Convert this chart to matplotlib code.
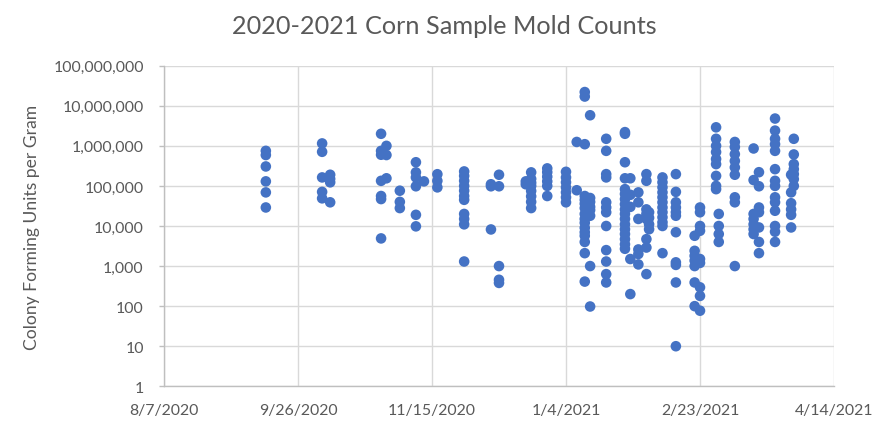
import datetime as dt
import matplotlib
matplotlib.use("Agg")
import matplotlib.pyplot as plt
import matplotlib.dates as mdates
from matplotlib.ticker import FixedLocator, FuncFormatter, NullLocator

plt.rcParams['font.family'] = ['Lato', 'DejaVu Sans']

# ---- data: sample dates and mold counts (CFU/g) ----
sample_dates = [
    "2020-09-14", "2020-10-05", "2020-10-08", "2020-10-27", "2020-10-29",
    "2020-11-03", "2020-11-09", "2020-11-12", "2020-11-17", "2020-11-27",
    "2020-12-07", "2020-12-10", "2020-12-20", "2020-12-22", "2020-12-28",
    "2021-01-04", "2021-01-08", "2021-01-11", "2021-01-13", "2021-01-19",
    "2021-01-26", "2021-01-28", "2021-01-31", "2021-02-03", "2021-02-04",
    "2021-02-09", "2021-02-14", "2021-02-21", "2021-02-23", "2021-03-01",
    "2021-03-02", "2021-03-08", "2021-03-15", "2021-03-17", "2021-03-23",
    "2021-03-29", "2021-03-30",
]
cfu_values = [
    [750000, 590000, 306000, 130000, 69000, 29000],
    [1150000, 710000, 163000, 71000, 49000],
    [190000, 150000, 123000, 39000],
    [2000000, 750000, 600000, 134000, 56000, 47000, 4900],
    [1000000, 590000, 155000],
    [76000, 40000, 28000],
    [390000, 218000, 163000, 98000, 19000, 9800],
    [130000],
    [196000, 134000, 92000],
    [230000, 178000, 134000, 100000, 76000, 56000, 45000, 20000, 15000, 11000, 1300],
    [110000, 98000, 8200],
    [190000, 98000, 1000, 455, 380],
    [130000, 110000],
    [218000, 150000, 120000, 100000, 75000, 55000, 40000, 28000],
    [274000, 220000, 170000, 130000, 100000, 56000],
    [225000, 163000, 123000, 92000, 69000, 52000, 39000],
    [1250000, 78000],
    [22000000, 17000000, 1100000, 56000, 45000, 36000, 28000, 20000, 15000,
     12000, 9000, 7000, 5700, 4000, 2100, 410],
    [5800000, 50000, 40000, 30000, 25000, 18000, 1000, 98],
    [1500000, 750000, 197000, 163000, 39000, 29000, 22000, 10000, 2500, 1300, 630, 390],
    [2200000, 2000000, 390000, 155000, 83000, 63000, 47000, 35000, 26000, 20000,
     15000, 11000, 8300, 6300, 4700, 3500, 2700],
    [155000, 60000, 30000, 1500, 200],
    [69000, 39000, 15000, 2600, 2000, 1100],
    [197000, 134000, 26000, 20000, 15000, 4700, 2900, 630],
    [22000, 16000, 11000, 8300],
    [163000, 123000, 92000, 69000, 52000, 39000, 29000, 22000, 16500, 12400, 10000, 2100],
    [197000, 71000, 39000, 29000, 22000, 18000, 7000, 1240, 1070, 390, 10],
    [5700, 2400, 1800, 1370, 1000, 390, 100],
    [29000, 22000, 10000, 7600, 1500, 1200, 295, 180, 77],
    [2900000, 1500000, 1000000, 700000, 470000, 350000, 178000, 100000, 83000],
    [20000, 10000, 6300, 4000],
    [1250000, 935000, 620000, 420000, 290000, 190000, 52000, 39000, 1000],
    [860000, 140000, 20000, 15000, 11000, 8300, 6300],
    [220000, 98000, 29000, 22000, 9200, 4000, 2100],
    [4800000, 2400000, 1500000, 1100000, 750000, 262000, 134000, 100000,
     52000, 39000, 24000, 10000, 7200, 4000],
    [190000, 69000, 37000, 26000, 19000, 9200],
    [1500000, 610000, 350000, 262000, 197000, 148000, 100000],
]
x_start = "2020-08-07"
x_end = "2021-04-14"
tick_step_days = 50
title_text = "2020-2021 Corn Sample Mold Counts"
y_label_text = "Colony Forming Units per Gram"

# ---- build flat point lists ----
xs, ys = [], []
for d, vals in zip(sample_dates, cfu_values):
    dn = mdates.date2num(dt.date.fromisoformat(d))
    for v in vals:
        xs.append(dn)
        ys.append(v)

W, H = 883, 431
fig = plt.figure(figsize=(W / 100, H / 100), dpi=100)
L, R, T, B = 164, 834, 66.7, 387.3
ax = fig.add_axes([L / W, 1 - B / H, (R - L) / W, (B - T) / H])

grid_c = "#D9D9D9"
axis_c = "#BFBFBF"
text_c = "#595959"

ax.scatter(xs, ys, s=58, color="#4472C4", edgecolors="none", zorder=3, clip_on=False)

ax.set_yscale("log")
ax.set_ylim(1, 1e8)
ax.yaxis.set_major_locator(FixedLocator([10 ** k for k in range(0, 9)]))
ax.yaxis.set_minor_locator(NullLocator())
ax.yaxis.set_major_formatter(FuncFormatter(lambda v, p: f"{int(round(v)):,}"))

d0 = dt.date.fromisoformat(x_start)
d1 = dt.date.fromisoformat(x_end)
ax.set_xlim(mdates.date2num(d0), mdates.date2num(d1))
tick_dates = []
d = d0
while d <= d1:
    tick_dates.append(d)
    d = d + dt.timedelta(days=tick_step_days)
ax.set_xticks([mdates.date2num(t) for t in tick_dates])
ax.set_xticklabels([f"{t.month}/{t.day}/{t.year}" for t in tick_dates])

ax.grid(True, color=grid_c, linewidth=1.0, zorder=0)
ax.set_axisbelow(True)
for s in ["top", "right"]:
    ax.spines[s].set_visible(False)
for s in ["left", "bottom"]:
    ax.spines[s].set_color(axis_c)
    ax.spines[s].set_linewidth(1.0)

ax.tick_params(axis="y", length=3.6, width=1.0, color=axis_c, labelsize=11.4,
               labelcolor=text_c, pad=11)
ax.tick_params(axis="x", length=0, labelsize=11.4, labelcolor=text_c, pad=12)

ax.set_ylabel(y_label_text, fontsize=12.6, color=text_c)
ax.yaxis.set_label_coords(-(L - 32) / (R - L), 0.5)
ax.yaxis.label.set_verticalalignment("center")

fig.text(444 / W, 1 - 27 / H, title_text, ha="center", va="center",
         fontsize=18.2, color=text_c)

fig.savefig("out.png", dpi=100)
